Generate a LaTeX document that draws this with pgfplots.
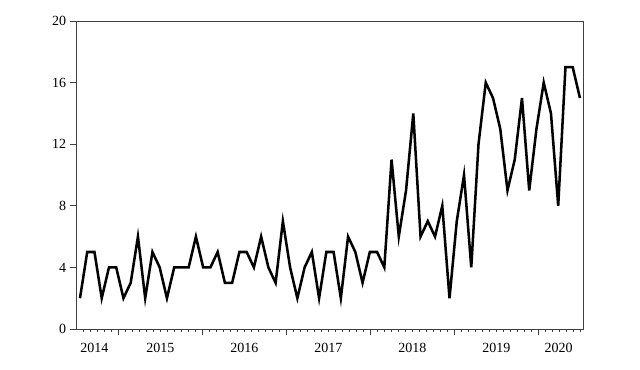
\documentclass[border=0pt]{standalone}
\usepackage{pgfplots}
\pgfplotsset{compat=1.18}
\usepackage{fontspec}
\setmainfont{Liberation Serif}
\begin{document}
\begin{tikzpicture}
\useasboundingbox (-57pt,-30pt) rectangle (423pt,246.75pt);
\begin{axis}[
  scale only axis,
  width=380.25pt, height=231pt,
  at={(0,0)}, anchor=south west,
  xmin=-0.55, xmax=69.42,
  ymin=0, ymax=20,
  ytick={0,4,...,20},
  xtick={5.31,16.91,28.51,40.11,51.71,63.31},
  xticklabels={},
  minor xtick={0.478,1.4447,2.4114,3.3781,4.3448,6.2782,7.2449,8.2116,9.1783,10.145,11.1117,12.0784,13.0451,14.0118,14.9785,15.9452,17.8786,18.8453,19.812,20.7787,21.7454,22.7121,23.6788,24.6455,25.6122,26.5789,27.5456,29.479,30.4457,31.4124,32.3791,33.3458,34.3125,35.2792,36.2459,37.2126,38.1793,39.146,41.0794,42.0461,43.0128,43.9795,44.9462,45.9129,46.8796,47.8463,48.813,49.7797,50.7464,52.6798,53.6465,54.6132,55.5799,56.5466,57.5133,58.48,59.4467,60.4134,61.3801,62.3468,64.2802,65.2469,66.2136,67.1803,68.147,69.1137},
  xminorticks=true,
  extra x ticks={2.0,11.11,22.70,34.29,45.89,57.48,66.04},
  extra x tick labels={2014,2015,2016,2017,2018,2019,2020},
  extra x tick style={major tick length=0pt, xticklabel style={yshift=-7pt}},
  tick pos=left,
  tick align=outside,
  major tick length=4.8pt,
  minor tick length=2.6pt,
  tick style={color=black!75, line width=0.6pt},
  axis line style={color=black!75, line width=0.6pt},
  /pgf/number format/assume math mode=true,
  tick label style={font=\fontsize{10.5pt}{12pt}\selectfont, color=black},
  yticklabel style={xshift=1pt},
]
\addplot[black, line width=1.9pt, line join=miter, mark=none] coordinates {
(0,2)(1,5)(2,5)(3,2)(4,4)(5,4)(6,2)(7,3)(8,6)(9,2)
(10,5)(11,4)(12,2)(13,4)(14,4)(15,4)(16,6)(17,4)(18,4)(19,5)
(20,3)(21,3)(22,5)(23,5)(24,4)(25,6)(26,4)(27,3)(28,7)(29,4)
(30,2)(31,4)(32,5)(33,2)(34,5)(35,5)(36,2)(37,6)(38,5)(39,3)
(40,5)(41,5)(42,4)(43,11)(44,6)(45,9)(46,14)(47,6)(48,7)(49,6)
(50,8)(51,2)(52,7)(53,10)(54,4)(55,12)(56,16)(57,15)(58,13)(59,9)
(60,11)(61,15)(62,9)(63,13)(64,16)(65,14)(66,8)(67,17)(68,17)(69,15)
};
\end{axis}
\end{tikzpicture}
\end{document}
